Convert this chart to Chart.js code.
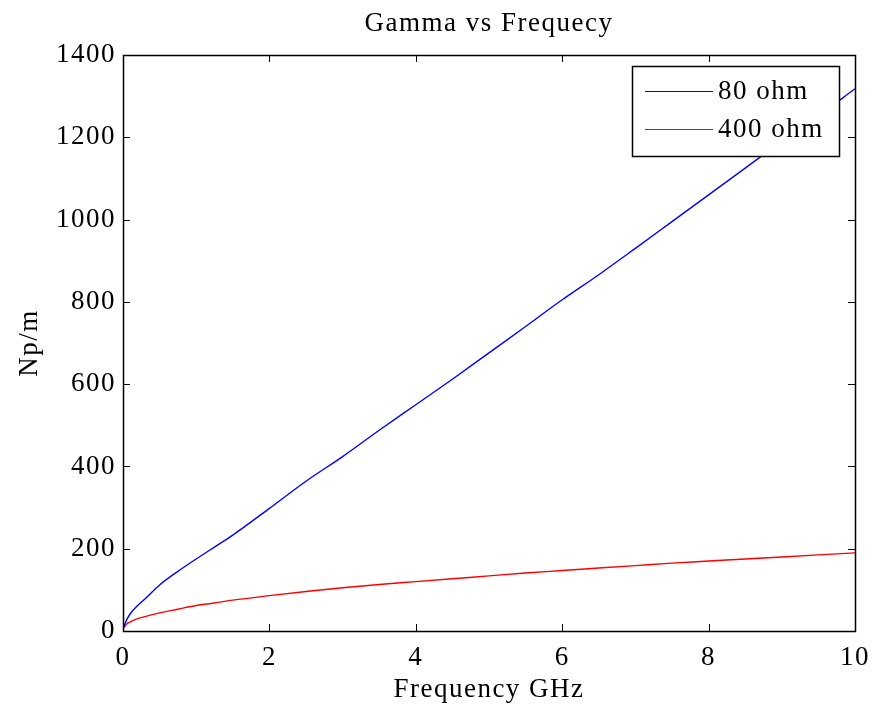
<!DOCTYPE html>
<html>
<head>
<meta charset="utf-8">
<script src="https://cdn.jsdelivr.net/npm/chart.js@4.4.0/dist/chart.umd.min.js"></script>
<style>
  html, body { margin: 0; padding: 0; background: #fff; }
  #wrap { width: 875px; height: 711px; }
</style>
</head>
<body>
<div id="wrap"><canvas id="chartscreen" width="875" height="711"></canvas></div>
<script>
// frequency points (GHz) and attenuation values (Np/m) for both lines
const freq = [0, 0.05, 0.1, 0.2, 0.3, 0.5, 0.75, 1, 1.25, 1.5, 2, 2.5, 3, 3.5, 4, 4.5, 5, 5.5, 6, 6.5, 7, 7.5, 8, 8.5, 9, 9.5, 10];
const gamma80 = [5, 27, 42, 62, 78, 112, 145, 175, 204, 233, 298, 364, 424, 488, 550, 612, 676, 740, 805, 866, 930, 995, 1060, 1125, 1190, 1252, 1318];
const gamma400 = [5, 17, 22, 30, 35, 44, 53, 62, 68, 75, 86, 96, 105, 113, 120, 127, 134, 141, 147, 153, 159, 165, 170, 175, 180, 185, 190];
const seriesNames = ["80 ohm", "400 ohm"];
const xTicks = [0, 2, 4, 6, 8, 10];
const yTicks = [0, 200, 400, 600, 800, 1000, 1200, 1400];

const FONT = "'Liberation Serif', 'Times New Roman', serif";
const FONT_SIZE = 27;
const SPACING = '1.5px';

function toPoints(xs, ys) {
    var pts = [];
    for (var i = 0; i < xs.length; i++) {
        pts.push({x: xs[i], y: ys[i]});
    }
    return pts;
}

// wider letter spacing for every text drawn on the canvas
const wideText = {
    id: 'wideText',
    beforeInit(chart) { chart.ctx.letterSpacing = SPACING; },
    beforeDraw(chart) { chart.ctx.letterSpacing = SPACING; }
};

// center the title over the plot box instead of the whole canvas
const titleOverPlot = {
    id: 'titleOverPlot',
    afterLayout(chart) {
        if (chart.titleBlock) {
            chart.titleBlock.left = chart.chartArea.left;
            chart.titleBlock.right = chart.chartArea.right;
        }
    }
};

// box around the plot with inward ticks on all four sides
const boxAndTicks = {
    id: 'boxAndTicks',
    afterDatasetsDraw(chart) {
        const ctx = chart.ctx;
        const a = chart.chartArea;
        const xs = chart.scales.x, ys = chart.scales.y;
        const len = 7;
        ctx.save();
        ctx.strokeStyle = '#000';
        ctx.lineWidth = 1;
        ctx.beginPath();
        xTicks.forEach(v => {
            const px = Math.round(xs.getPixelForValue(v)) + 0.5;
            ctx.moveTo(px, a.bottom); ctx.lineTo(px, a.bottom - len);
            ctx.moveTo(px, a.top); ctx.lineTo(px, a.top + len);
        });
        yTicks.forEach(v => {
            const py = Math.round(ys.getPixelForValue(v)) + 0.5;
            ctx.moveTo(a.left, py); ctx.lineTo(a.left + len, py);
            ctx.moveTo(a.right, py); ctx.lineTo(a.right - len, py);
        });
        ctx.stroke();
        ctx.lineWidth = 1.5;
        ctx.strokeRect(Math.round(a.left) + 0.5, Math.round(a.top) + 0.5,
                       Math.round(a.right - a.left), Math.round(a.bottom - a.top));
        ctx.restore();
    }
};

// legend box in the upper right corner of the plot
const boxLegend = {
    id: 'boxLegend',
    afterDraw(chart) {
        const ctx = chart.ctx;
        const a = chart.chartArea;
        const w = 207, h = 90;
        const x0 = a.right - 16 - w, y0 = a.top + 11;
        ctx.save();
        ctx.fillStyle = '#fff';
        ctx.fillRect(x0, y0, w, h);
        ctx.strokeStyle = '#000';
        ctx.lineWidth = 1.5;
        ctx.strokeRect(Math.round(x0) + 0.5, Math.round(y0) + 0.5, w, h);
        ctx.font = FONT_SIZE + 'px ' + FONT;
        ctx.textBaseline = 'middle';
        chart.data.datasets.forEach((ds, i) => {
            const cy = Math.round(y0 + 25 + i * 38) + 0.5;
            ctx.strokeStyle = ds.borderColor;
            ctx.lineWidth = 1.2;
            ctx.beginPath();
            ctx.moveTo(x0 + 13, cy);
            ctx.lineTo(x0 + 81, cy);
            ctx.stroke();
            ctx.fillStyle = '#000';
            ctx.fillText(ds.label, x0 + 86, cy);
        });
        ctx.restore();
    }
};

const chart_canvas = document.getElementById('chartscreen');

new Chart(chart_canvas, {
    type: 'line',
    data: {
        datasets: [{
            label: seriesNames[0],
            data: toPoints(freq, gamma80),
            borderColor: '#0000ff',
            borderWidth: 1.4,
            pointRadius: 0,
            cubicInterpolationMode: 'monotone'
        }, {
            label: seriesNames[1],
            data: toPoints(freq, gamma400),
            borderColor: '#ff0000',
            borderWidth: 1.4,
            pointRadius: 0,
            cubicInterpolationMode: 'monotone'
        }]
    },
    options: {
        responsive: false,
        animation: false,
        layout: { padding: { left: 0, right: 20, top: 0, bottom: 0 } },
        plugins: {
            legend: { display: false },
            tooltip: { enabled: false },
            title: {
                display: true,
                text: 'Gamma vs Frequecy',
                color: '#000',
                font: { family: FONT, size: FONT_SIZE, weight: 'normal', lineHeight: 1.2 },
                padding: { top: 8, bottom: 14.6 }
            }
        },
        scales: {
            x: {
                type: 'linear',
                min: 0,
                max: 10,
                afterFit: s => { s.height = 80; s.paddingLeft = 0; s.paddingRight = 0; },
                afterBuildTicks: s => { s.ticks = xTicks.map(v => ({value: v})); },
                grid: { display: false, drawTicks: false },
                border: { display: false },
                ticks: { color: '#000', padding: 11, maxRotation: 0, font: { family: FONT, size: FONT_SIZE },
                         callback: v => String(v) },
                title: {
                    display: true,
                    text: 'Frequency GHz',
                    color: '#000',
                    font: { family: FONT, size: FONT_SIZE, lineHeight: 1.2 },
                    padding: { top: 0, bottom: 5 }
                }
            },
            y: {
                type: 'linear',
                min: 0,
                max: 1400,
                afterFit: s => { s.width = 123; s.paddingTop = 0; s.paddingBottom = 0; },
                afterBuildTicks: s => { s.ticks = yTicks.map(v => ({value: v})); },
                grid: { display: false, drawTicks: false },
                border: { display: false },
                ticks: { color: '#000', padding: 7, font: { family: FONT, size: FONT_SIZE },
                         callback: v => String(v) },
                title: {
                    display: true,
                    text: 'Np/m',
                    color: '#000',
                    font: { family: FONT, size: FONT_SIZE, lineHeight: 1.2 },
                    padding: { top: 14, bottom: 0 }
                }
            }
        }
    },
    plugins: [wideText, titleOverPlot, boxAndTicks, boxLegend]
});
</script>
</body>
</html>
